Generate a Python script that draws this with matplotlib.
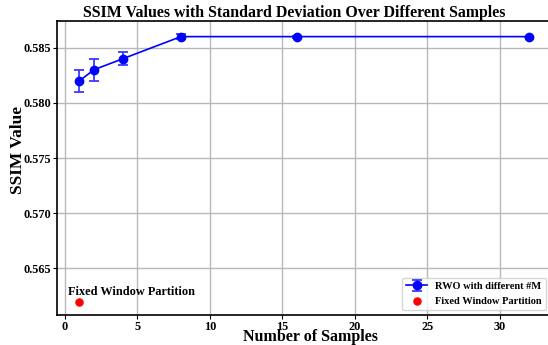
import matplotlib.pyplot as plt
import numpy as np

samples = [1, 2, 4, 8, 16, 32]
ssim_mean = [0.582, 0.583, 0.584, 0.586, 0.586, 0.586]
ssim_std = [0.001, 0.001, 0.0006, 0.0002, 0.0001, 0.0]

fixed_x = [1]
fixed_y = [0.562]

plt.rcParams['font.family'] = ['Liberation Serif', 'DejaVu Serif']
plt.rcParams['font.weight'] = 'bold'

fig = plt.figure(figsize=(5.48, 3.45), dpi=100)
ax = fig.add_axes([0.104, 0.087, 0.902, 0.852])

eb = ax.errorbar(samples, ssim_mean, yerr=ssim_std, fmt='-o', color='blue',
                 ecolor='#3a3aff', markersize=6, linewidth=1.2, capsize=3.5,
                 elinewidth=1.3, capthick=1.3, label='RWO with different #M')
sc = ax.scatter(fixed_x, fixed_y, color='red', s=26, zorder=3,
                label='Fixed Window Partition')
ax.text(0.2, 0.5629, 'Fixed Window Partition', fontsize=8.8, fontweight='bold',
        va='center', ha='left')

ax.set_yticks([0.565, 0.570, 0.575, 0.580, 0.585])
ax.set_xticks([0, 5, 10, 15, 20, 25, 30])
ax.tick_params(labelsize=8.8, length=3, pad=1)
for lbl in ax.get_xticklabels() + ax.get_yticklabels():
    lbl.set_fontweight('bold')

ax.grid(True, color='#b8b8b8', linewidth=1)
ax.set_axisbelow(True)
for s in ax.spines.values():
    s.set_linewidth(1.2)

ax.set_xlabel('Number of Samples', fontsize=11.5, fontweight='bold', va='center')
ax.xaxis.set_label_coords(0.512, -0.076)
ax.set_ylabel('SSIM Value', fontsize=12.5, fontweight='bold')
ax.yaxis.set_label_coords(-0.063, 0.56)
ax.set_title('SSIM Values with Standard Deviation Over Different Samples',
             fontsize=11.4, fontweight='bold', pad=3, x=0.479)
ax.legend([eb, sc], ['RWO with different #M', 'Fixed Window Partition'],
          loc='lower right', prop={'weight': 'bold', 'size': 7.5})

fig.savefig('out.png', dpi=100)
